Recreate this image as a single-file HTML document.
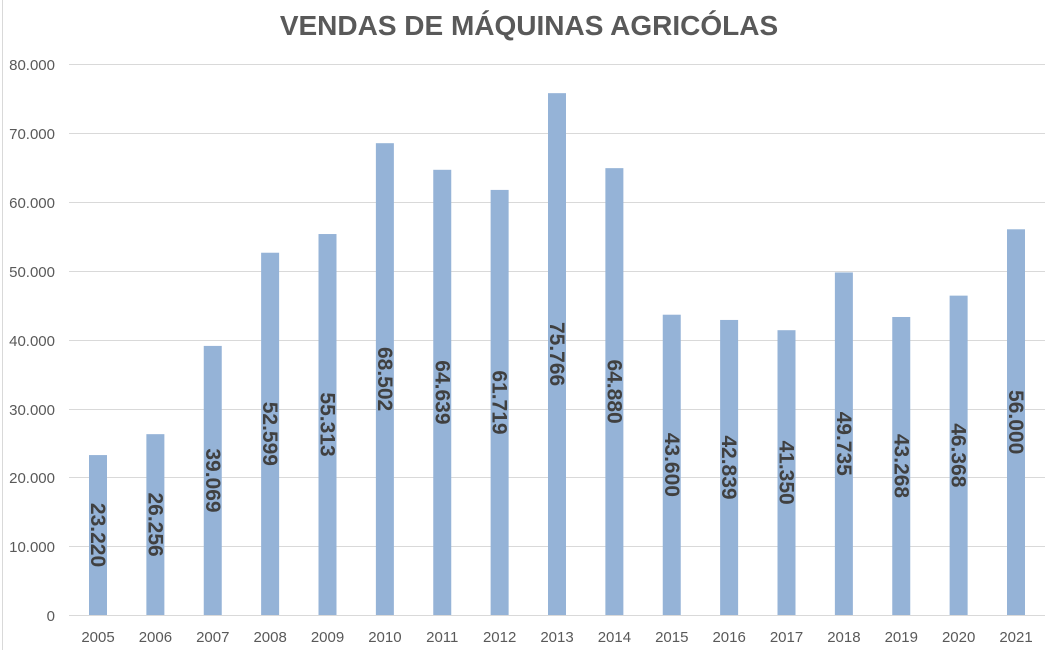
<!DOCTYPE html>
<html><head><meta charset="utf-8"><style>
body{margin:0;background:#fff}
svg{display:block}
text{font-family:"Liberation Sans",Arial,sans-serif}
</style></head><body>
<svg width="1054" height="650" viewBox="0 0 1054 650">
<rect x="0" y="0" width="1054" height="650" fill="#fff"/>
<line x1="2.5" y1="0" x2="2.5" y2="650" stroke="#d9d9d9"/>
<text x="529" y="35" text-anchor="middle" font-size="28" font-weight="bold" fill="#595959">VENDAS DE MÁQUINAS AGRICÓLAS</text>
<g stroke="#d9d9d9" stroke-width="1">
<line x1="69" y1="64.5" x2="1045" y2="64.5"/>
<line x1="69" y1="133.5" x2="1045" y2="133.5"/>
<line x1="69" y1="202.5" x2="1045" y2="202.5"/>
<line x1="69" y1="271.5" x2="1045" y2="271.5"/>
<line x1="69" y1="340.5" x2="1045" y2="340.5"/>
<line x1="69" y1="409.5" x2="1045" y2="409.5"/>
<line x1="69" y1="477.5" x2="1045" y2="477.5"/>
<line x1="69" y1="546.5" x2="1045" y2="546.5"/>
<line x1="69" y1="615.5" x2="1045" y2="615.5"/>
</g>
<g font-size="15" fill="#595959" text-anchor="end">
<text x="55" y="70">80.000</text>
<text x="55" y="139">70.000</text>
<text x="55" y="208">60.000</text>
<text x="55" y="277">50.000</text>
<text x="55" y="346">40.000</text>
<text x="55" y="415">30.000</text>
<text x="55" y="483">20.000</text>
<text x="55" y="552">10.000</text>
<text x="55" y="621">0</text>
</g>
<g id="bars"></g>
</svg>
<script>
var d=[23220,26256,39069,52599,55313,68502,64639,61719,75766,64880,43600,42839,41350,49735,43268,46368,56000];
var g=document.getElementById('bars'),h='';
d.forEach(function(v,i){
 var cx=98+i*57.375, bh=v*551/80000, top=615-bh;
 h+='<rect x="'+(cx-9)+'" y="'+top+'" width="18" height="'+bh+'" fill="#95b3d7"/>';
 var cy=top+bh/2;
 var s=String(v).replace(/(\d+)(\d{3})$/,'$1.$2');
 h+='<text x="'+cx+'" y="'+cy+'" transform="rotate(90 '+cx+' '+cy+')" text-anchor="middle" dy="7" font-size="21" font-weight="bold" fill="#404040">'+s+'</text>';
 h+='<text x="'+cx+'" y="642" text-anchor="middle" font-size="15" fill="#595959">'+(2005+i)+'</text>';
});
g.innerHTML=h;
</script>
</body></html>
